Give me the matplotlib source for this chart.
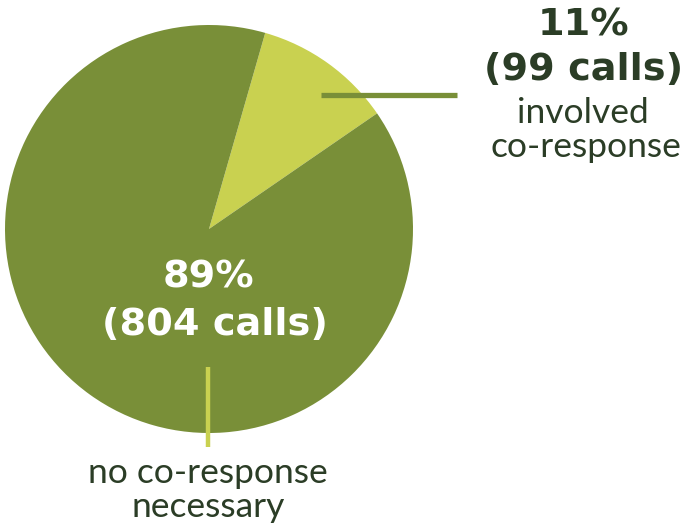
import matplotlib
matplotlib.use("Agg")
import matplotlib.pyplot as plt

labels = ["involved co-response", "no co-response necessary"]
calls = [99, 804]
percents = ["11%", "89%"]
colors = ["#c9d150", "#798f38"]
text_dark = "#2b3d26"

W, H = 687, 529
fig = plt.figure(figsize=(W / 100, H / 100), dpi=100)
ax = fig.add_axes([0, 0, 1, 1])

cx, cy, r = 209, H - 229, 204
ax.pie(calls, colors=colors, startangle=74, counterclock=False,
       center=(cx, cy), radius=r, frame=True,
       wedgeprops=dict(linewidth=0))
ax.set_xlim(0, W)
ax.set_ylim(0, H)
ax.set_aspect("equal")
ax.axis("off")

# leader lines
ax.plot([321, 457], [H - 95, H - 95], color="#798f38", lw=3.8, solid_capstyle="butt")
ax.plot([208, 208], [H - 367, H - 447], color="#c9d150", lw=3.2, solid_capstyle="butt")

bold = dict(family=["DejaVu Sans"], fontweight="bold", ha="center", va="baseline")
reg = dict(family=["Lato", "DejaVu Sans"], fontweight="normal", ha="center", va="baseline")

ax.text(584, H - 35, f"{percents[0]}", fontsize=27.5, color=text_dark, **bold)
ax.text(584, H - 80, f"({calls[0]} calls)", fontsize=27.5, color=text_dark, **bold)
ax.text(583, H - 123, "involved", fontsize=25.5, color=text_dark, **reg)
ax.text(586, H - 157, "co-response", fontsize=25.5, color=text_dark, **reg)

ax.text(208, H - 288, f"{percents[1]}", fontsize=27.5, color="white", **bold)
ax.text(215, H - 335, f"({calls[1]} calls)", fontsize=27.5, color="white", **bold)
ax.text(208, H - 483, "no co-response", fontsize=25.5, color=text_dark, **reg)
ax.text(208, H - 517, "necessary", fontsize=25.5, color=text_dark, **reg)

fig.savefig("out.png", dpi=100)
